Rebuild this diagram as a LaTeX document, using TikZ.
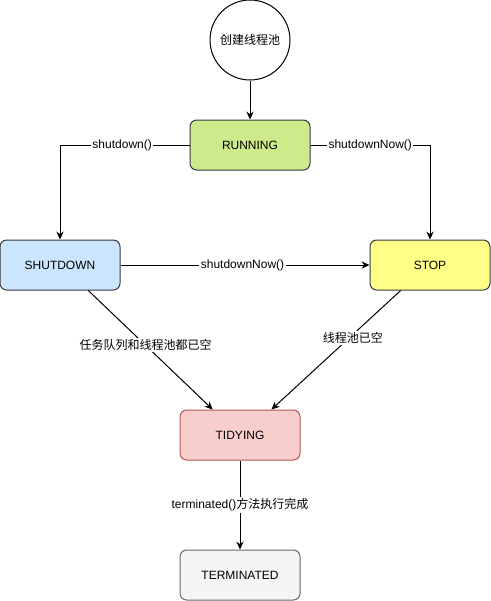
\documentclass[tikz,border=0pt]{standalone}
\usepackage{fontspec}
\setmainfont{Liberation Sans}
\newfontfamily\cjk{Noto Sans CJK SC}
\usetikzlibrary{arrows.meta}
\definecolor{edgegray}{HTML}{36393D}
\definecolor{runfill}{HTML}{CDEB8B}
\definecolor{sdfill}{HTML}{CCE5FF}
\definecolor{stopfill}{HTML}{FFFF88}
\definecolor{tidyfill}{HTML}{F8CECC}
\definecolor{tidydraw}{HTML}{B85450}
\definecolor{termfill}{HTML}{F5F5F5}
\definecolor{termdraw}{HTML}{666666}
\begin{document}
\begin{tikzpicture}[x=0.75pt,y=-0.75pt,
  box/.style={rectangle, rounded corners=5pt, minimum width=90pt, minimum height=37.5pt,
    inner sep=0pt, line width=0.75pt, font=\fontsize{9}{11}\selectfont},
  lbl/.style={fill=white, inner sep=1pt, font=\fontsize{9}{11}\selectfont},
  arr/.style={line width=0.75pt, -{Stealth[length=6pt,width=5.5pt,inset=2pt]}}]
\useasboundingbox (0,0) rectangle (491,601);
\node[circle, draw=black, line width=0.75pt, minimum size=60pt, inner sep=0pt,
  font=\fontsize{9}{11}\selectfont] (start) at (250,40) {\cjk 创建线程池};
\node[box, draw=edgegray, fill=runfill] (run) at (250,145) {RUNNING};
\node[box, draw=edgegray, fill=sdfill] (sd) at (60,265) {SHUTDOWN};
\node[box, draw=edgegray, fill=stopfill] (stop) at (430,265) {STOP};
\node[box, draw=tidydraw, fill=tidyfill] (tidy) at (240,435) {TIDYING};
\node[box, draw=termdraw, fill=termfill] (term) at (240,575) {TERMINATED};

\draw[arr] (start.south) -- (run.north);
\draw[arr] (run.west) -| node[lbl, pos=0.26] {shutdown()} (sd.north);
\draw[arr] (run.east) -| node[lbl, pos=0.25] {shutdownNow()} (stop.north);
\draw[arr] (sd.east) -- node[lbl, pos=0.49] {shutdownNow()} (stop.west);
\draw[arr] (sd.-42.8) -- node[lbl, pos=0.46] {\cjk 任务队列和线程池都已空} (tidy.137.2);
\draw[arr] (stop.221.8) -- node[lbl, pos=0.40, xshift=3pt] {\cjk 线程池已空} (tidy.39.8);
\draw[arr] (tidy.south) -- node[lbl, pos=0.5] {terminated(){\cjk 方法执行完成}} (term.north);
\end{tikzpicture}
\end{document}
